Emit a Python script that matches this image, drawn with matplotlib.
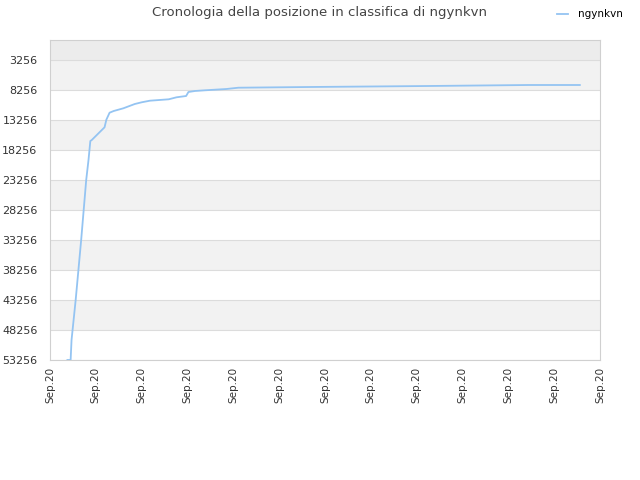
import numpy as np
import matplotlib.pyplot as plt

# positions along the time axis (tick units) and the rank at each point
days = [0.38, 0.45, 0.47, 0.56, 0.68, 0.79, 0.84, 0.88, 0.91, 1.19, 1.23, 1.30,
        1.39, 1.60, 1.85, 2.00, 2.18, 2.59, 2.76, 2.97, 3.02, 3.16, 3.38,
        3.85, 4.11, 5.67, 8.26, 10.44, 11.56]
ranks = [53256, 53256, 49923, 43256, 33256, 23256, 19923, 16756, 16600, 14473,
         13200, 12039, 11756, 11306, 10589, 10306, 10039, 9806, 9473, 9256,
         8589, 8423, 8306, 8089, 7873, 7756, 7589, 7423, 7423]

yticks = [3256, 8256, 13256, 18256, 23256, 28256, 33256, 38256, 43256, 48256, 53256]
xlabels = ['Sep.20'] * 13

fig = plt.figure(figsize=(6.4, 4.8), dpi=100)
ax = fig.add_axes([50 / 640, 1 - 360 / 480, 550 / 640, 320 / 480])

ytop = 3256 - 20 * 5000 / 30
ax.set_ylim(53256, ytop)
ax.set_xlim(0, 12)

# alternating background bands
ax.axhspan(ytop, 3256, color='#ececec', zorder=0, lw=0)
for i in range(0, len(yticks) - 1, 2):
    ax.axhspan(yticks[i], yticks[i + 1], color='#f2f2f2', zorder=0, lw=0)
for y in yticks:
    ax.axhline(y, color='#dcdcdc', lw=0.8, zorder=1)

ax.plot(days, ranks, color='#94c4f2', lw=1.3, label='ngynkvn', zorder=3)

ax.set_yticks(yticks)
ax.set_yticklabels([str(v) for v in yticks], fontsize=8, color='#333333')
ax.set_xticks(range(13))
ax.set_xticklabels(xlabels, rotation=90, fontsize=7.5, color='#333333')
ax.tick_params(axis='y', length=0, pad=9)
ax.tick_params(axis='x', length=0, pad=5)
for s in ax.spines.values():
    s.set_color('#d0d0d0')

fig.text(0.5, 0.988, 'Cronologia della posizione in classifica di ngynkvn',
         ha='center', va='top', fontsize=9.5, color='#444444')
fig.legend(loc='upper right', bbox_to_anchor=(0.988, 1.0), frameon=False,
           fontsize=7.5, handlelength=1.0, handletextpad=1.0)

fig.savefig('out.png', dpi=100)
